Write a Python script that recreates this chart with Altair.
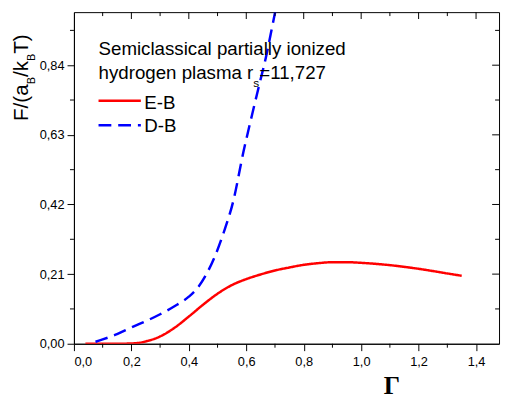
import altair as alt
import pandas as pd

# ---- data ----
eb_x = [0.04, 0.10, 0.15, 0.20, 0.22, 0.25, 0.30, 0.35, 0.40, 0.45, 0.50, 0.55, 0.60,
        0.65, 0.70, 0.75, 0.80, 0.85, 0.90, 0.95, 1.00, 1.10, 1.20, 1.30, 1.35]
eb_y = [0.0, 0.0, 0.0, 0.001, 0.002, 0.007, 0.022, 0.048, 0.082, 0.118, 0.151, 0.177, 0.195,
        0.209, 0.221, 0.230, 0.238, 0.243, 0.246, 0.246, 0.244, 0.237, 0.226, 0.212, 0.205]

db_x = [0.075, 0.10, 0.15, 0.20, 0.25, 0.30, 0.35, 0.40, 0.43, 0.46, 0.49, 0.52, 0.555,
        0.59, 0.62, 0.645, 0.67, 0.69, 0.705]
db_y = [0.006, 0.013, 0.029, 0.049, 0.068, 0.089, 0.113, 0.142, 0.168, 0.208, 0.262, 0.332, 0.431,
        0.578, 0.690, 0.780, 0.870, 0.955, 1.02]

series_names = ["E-B", "D-B"]
series_colors = ["#ff0000", "#0000ff"]

x_major = [0.0, 0.2, 0.4, 0.6, 0.8, 1.0, 1.2, 1.4]
x_minor = [0.1, 0.3, 0.5, 0.7, 0.9, 1.1, 1.3]
y_major = [0.0, 0.21, 0.42, 0.63, 0.84]
y_minor = [0.105, 0.315, 0.525, 0.735, 0.945]

note_line1 = "Semiclassical partially ionized"
note_line2 = "hydrogen plasma r"
note_sub = "s"
note_rest = "=11,727"

# ---- layout ----
W, H = 432, 337
FONT = "Liberation Sans, Arial, sans-serif"
SERIF = "Liberation Serif, Times New Roman, serif"

AW = {" ": 278, "h": 556, "y": 500, "d": 556, "r": 333, "o": 556, "g": 556, "e": 556,
      "n": 556, "p": 556, "l": 222, "a": 556, "s": 500, "m": 833, "=": 584, "1": 556,
      ",": 278, "7": 556, "2": 556, "F": 611, "/": 278, "(": 333, ")": 333, "k": 500,
      "B": 667, "T": 611}


def tw(s, size):
    return sum(AW.get(c, 556) for c in s) * size / 1000.0


lines = pd.DataFrame({
    "x": eb_x + db_x,
    "y": eb_y + db_y,
    "series": ["E-B"] * len(eb_x) + ["D-B"] * len(db_x),
})

xscale = alt.Scale(domain=[0, 1.48], nice=False, zero=False)
yscale = alt.Scale(domain=[0, 1.0], nice=False, zero=False)

axis_common = dict(labelFont=FONT, labelFontSize=13, labelColor="black",
                   domainColor="black", tickColor="black", tickSize=7,
                   grid=False, title=None, domainWidth=1, tickWidth=1)

xaxis = alt.Axis(values=x_major, labelExpr="replace(format(datum.value, '.1f'), '.', ',')",
                 labelPadding=5, **axis_common)
yaxis = alt.Axis(values=y_major, labelExpr="replace(format(datum.value, '.2f'), '.', ',')",
                 labelPadding=3, **axis_common)

curves = alt.Chart(lines).mark_line(strokeWidth=2.5, clip=True, interpolate="monotone").encode(
    x=alt.X("x:Q", scale=xscale, axis=xaxis),
    y=alt.Y("y:Q", scale=yscale, axis=yaxis),
    color=alt.Color("series:N", scale=alt.Scale(domain=series_names, range=series_colors), legend=None),
    strokeDash=alt.StrokeDash("series:N", scale=alt.Scale(domain=series_names, range=[[1, 0], [13, 7]]), legend=None),
    detail="series:N",
)

xmin_df = pd.DataFrame({"t": x_minor})
xmaj_df = pd.DataFrame({"t": x_major[1:]})
ymin_df = pd.DataFrame({"t": y_minor})
ymaj_df = pd.DataFrame({"t": y_major[1:]})

tick = dict(color="black", strokeWidth=1)
bottom_minor = alt.Chart(xmin_df).mark_rule(**tick).encode(
    x=alt.X("t:Q", scale=xscale), y=alt.value(H), y2=alt.value(H + 4))
left_minor = alt.Chart(ymin_df).mark_rule(**tick).encode(
    y=alt.Y("t:Q", scale=yscale), x=alt.value(-4), x2=alt.value(0))
top_major = alt.Chart(xmaj_df).mark_rule(**tick).encode(
    x=alt.X("t:Q", scale=xscale), y=alt.value(0), y2=alt.value(7))
top_minor = alt.Chart(xmin_df).mark_rule(**tick).encode(
    x=alt.X("t:Q", scale=xscale), y=alt.value(0), y2=alt.value(4))
right_major = alt.Chart(ymaj_df).mark_rule(**tick).encode(
    y=alt.Y("t:Q", scale=yscale), x=alt.value(W - 7), x2=alt.value(W))
right_minor = alt.Chart(ymin_df).mark_rule(**tick).encode(
    y=alt.Y("t:Q", scale=yscale), x=alt.value(W - 4), x2=alt.value(W))

one = pd.DataFrame({"a": [0]})


def txt(text, x, y, size, font=FONT, angle=0, align="left", weight="normal"):
    kw = dict(text=text, font=font, fontSize=size, align=align, baseline="alphabetic",
              color="black", fontWeight=weight)
    if angle:
        kw["angle"] = angle
    return alt.Chart(one).mark_text(**kw).encode(x=alt.value(x), y=alt.value(y))


NS = 19
SUBS = 12
ann_x = 25
l2_x_sub = ann_x + tw(note_line2, NS)
l2_x_rest = l2_x_sub + tw(note_sub, SUBS)
texts = [
    txt(note_line1, ann_x, 44, NS),
    txt(note_line2, ann_x, 68, NS),
    txt(note_sub, l2_x_sub, 76, SUBS),
    txt(note_rest, l2_x_rest, 68, NS),
    txt("E-B", 71.5, 98, NS),
    txt("D-B", 71.5, 121.3, NS),
]

leg_red = alt.Chart(one).mark_rule(color="#ff0000", strokeWidth=2.5).encode(
    x=alt.value(25), x2=alt.value(68), y=alt.value(90))
leg_blue = alt.Chart(one).mark_rule(color="#0000ff", strokeWidth=2.5, strokeDash=[13, 7]).encode(
    x=alt.value(25), x2=alt.value(68), y=alt.value(115))

# y title: F/(a_B/k_B T), rotated
YS, YSUB = 21, 11
yx = -46.7
yy = 110.7
ypieces = []
y_cur = yy
for s, sub in [("F/(a", False), ("B", True), ("/k", False), ("B", True), ("T)", False)]:
    if sub:
        ypieces.append(txt(s, yx + 7.5, y_cur, YSUB, angle=270))
        y_cur -= tw(s, YSUB)
    else:
        ypieces.append(txt(s, yx, y_cur, YS, angle=270))
        y_cur -= tw(s, YS)

gamma = txt("Γ", 323, 388, 26, font=SERIF, align="center", weight="bold")

chart = alt.layer(
    curves, bottom_minor, left_minor, top_major, top_minor, right_major, right_minor,
    leg_red, leg_blue, *texts, *ypieces, gamma
).properties(
    width=W, height=H,
    autosize=alt.AutoSizeParams(type="none"),
    padding={"left": 67, "top": 1, "right": 2, "bottom": 57},
).configure_view(stroke="black", strokeWidth=1)

chart.save("out.html", embed_options={"renderer": "svg", "actions": False})
